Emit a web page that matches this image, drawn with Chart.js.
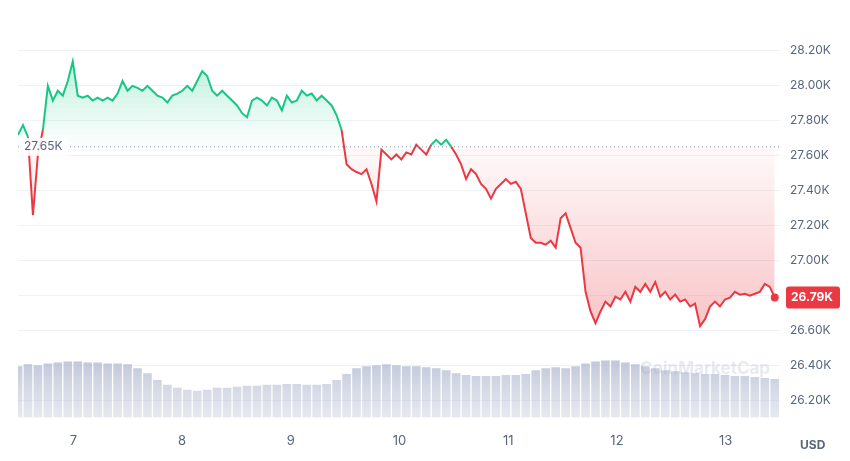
<!DOCTYPE html>
<html>
<head>
<meta charset="utf-8">
<script src="https://cdn.jsdelivr.net/npm/chart.js@4.4.0/dist/chart.umd.min.js"></script>
<style>
  html, body { margin: 0; padding: 0; background: #fff; }
  #wrap { width: 850px; height: 461px; }
</style>
</head>
<body>
<div id="wrap"><canvas id="priceChart" width="850" height="461"></canvas></div>
<script>
// ===== data =====
const startDay = 6.49;          // first sample (day of month)
const stepDay = 0.0458;         // ~1.1 h between samples
const baseline = 27650;         // opening price, dotted line
const lastLabel = '26.79K';

const prices = [
  27718, 27774, 27707, 27259, 27606, 27746, 27998, 27914, 27970, 27942,
  28026, 28138, 27942, 27931, 27942, 27914, 27931, 27914, 27931, 27914,
  27954, 28026, 27970, 27998, 27987, 27970, 27998, 27970, 27942, 27931,
  27903, 27942, 27954, 27970, 27998, 27970, 28026, 28082, 28054, 27970,
  27942, 27970, 27942, 27914, 27886, 27842, 27819, 27914, 27931, 27914,
  27886, 27931, 27914, 27858, 27942, 27903, 27914, 27970, 27942, 27954,
  27914, 27942, 27914, 27886, 27830, 27746, 27550, 27522, 27506, 27494,
  27522, 27438, 27338, 27634, 27606, 27578, 27606, 27578, 27618, 27606,
  27662, 27634, 27606, 27662, 27690, 27662, 27690, 27651, 27606, 27550,
  27466, 27522, 27494, 27438, 27410, 27354, 27410, 27438, 27466, 27438,
  27450, 27410, 27270, 27130, 27102, 27102, 27091, 27114, 27074, 27242,
  27270, 27186, 27102, 27074, 26822, 26710, 26643, 26710, 26766, 26738,
  26794, 26778, 26822, 26766, 26850, 26822, 26867, 26822, 26878, 26794,
  26822, 26778, 26806, 26766, 26778, 26738, 26755, 26626, 26666, 26738,
  26766, 26738, 26778, 26789, 26822, 26806, 26811, 26800, 26811, 26822,
  26867, 26850, 26790
];

// volume, one bar every second sample
const volumes = [
  52, 54, 53, 55, 56, 57, 57, 56, 56, 55, 55, 54, 50, 45,
  38, 33, 30, 28, 27, 28, 30, 30, 31, 32, 32, 33, 33, 34, 34, 33, 33, 34, 38,
  44, 50, 52, 53, 54, 53, 52, 52, 51, 50, 48, 45,
  43, 42, 42, 42, 43, 43, 44,
  48, 50, 51, 50, 52, 55,
  57, 58, 58, 56, 54, 52,
  50, 48, 47, 46, 45, 44, 44, 43, 42, 42, 41, 40, 39
];

const dayTicks = [7, 8, 9, 10, 11, 12, 13];

const GREEN = '#16c784';
const RED = '#ea3943';
const TEXT = '#58667e';

const pricePoints = prices.map((p, i) => ({ x: startDay + i * stepDay, y: p }));
const volumePoints = volumes.map((v, i) => ({ x: startDay + i * 2 * stepDay, y: v }));

const ctx = document.getElementById('priceChart').getContext('2d');

// gradients in css pixels (canvas is fixed size)
const greenFill = ctx.createLinearGradient(0, 50, 0, 142);
greenFill.addColorStop(0, 'rgba(22,199,132,0.30)');
greenFill.addColorStop(1, 'rgba(22,199,132,0.02)');
const redFill = ctx.createLinearGradient(0, 142, 0, 330);
redFill.addColorStop(0, 'rgba(234,57,67,0.02)');
redFill.addColorStop(1, 'rgba(234,57,67,0.30)');
const volFill = ctx.createLinearGradient(0, 360, 0, 418);
volFill.addColorStop(0, 'rgba(170,180,205,0.75)');
volFill.addColorStop(1, 'rgba(200,206,222,0.45)');

// baseline, labels, end dot
const overlayPlugin = {
  id: 'overlay',
  afterDatasetsDraw(chart) {
    const { ctx, chartArea, scales } = chart;
    const y = scales.y;
    const by = y.getPixelForValue(baseline);
    ctx.save();
    ctx.setLineDash([1, 3]);
    ctx.strokeStyle = '#8a93a6';
    ctx.lineWidth = 1;
    ctx.beginPath();
    ctx.moveTo(chartArea.left, by);
    ctx.lineTo(chartArea.right, by);
    ctx.stroke();
    ctx.setLineDash([]);

    ctx.font = "12px 'Inter', sans-serif";
    ctx.textBaseline = 'middle';
    ctx.fillStyle = 'rgba(255,255,255,0.9)';
    ctx.fillRect(chartArea.left + 2, by - 9, 48, 18);
    ctx.fillStyle = TEXT;
    ctx.textAlign = 'left';
    ctx.fillText('27.65K', chartArea.left + 6, by);

    // last price tag
    const meta = chart.getDatasetMeta(0);
    const last = meta.data[meta.data.length - 1];
    ctx.fillStyle = RED;
    ctx.beginPath();
    ctx.arc(last.x, last.y, 4, 0, Math.PI * 2);
    ctx.fill();
    ctx.beginPath();
    ctx.roundRect(chartArea.right + 6, last.y - 11, 54, 22, 3);
    ctx.fill();
    ctx.fillStyle = '#fff';
    ctx.font = "bold 12px 'Inter', sans-serif";
    ctx.fillText(lastLabel, chartArea.right + 11, last.y);

    // watermark + unit
    ctx.fillStyle = 'rgba(160,170,190,0.25)';
    ctx.font = "bold 17px 'Inter', sans-serif";
    ctx.fillText('CoinMarketCap', 640, 369);
    ctx.fillStyle = TEXT;
    ctx.font = "bold 12px 'Inter', sans-serif";
    ctx.fillText('USD', 800, 445);
    ctx.restore();
  }
};

new Chart(ctx, {
  data: {
    datasets: [
      {
        type: 'line',
        data: pricePoints,
        yAxisID: 'y',
        borderWidth: 2,
        pointRadius: 0,
        tension: 0,
        borderColor: RED,
        segment: {
          borderColor: c => (c.p0.parsed.y >= baseline && c.p1.parsed.y >= baseline) ? GREEN : RED
        },
        fill: { target: { value: baseline }, above: greenFill, below: redFill },
        order: 1
      },
      {
        type: 'bar',
        data: volumePoints,
        yAxisID: 'vol',
        backgroundColor: volFill,
        barThickness: 8,
        order: 2
      }
    ]
  },
  plugins: [overlayPlugin],
  options: {
    responsive: false,
    animation: false,
    layout: { padding: { left: 18, top: 10, right: 4, bottom: 4 } },
    plugins: { legend: { display: false }, tooltip: { enabled: false } },
    scales: {
      x: {
        type: 'linear',
        offset: false,
        min: startDay,
        max: 13.5,
        afterBuildTicks: s => { s.ticks = dayTicks.map(v => ({ value: v })); },
        grid: { display: false, offset: false },
        border: { display: false },
        ticks: { color: TEXT, font: { size: 13, family: 'Inter' }, padding: 8 }
      },
      y: {
        position: 'right',
        min: 26105,
        max: 28390,
        afterBuildTicks: s => {
          const t = [];
          for (let v = 26200; v <= 28200; v += 200) t.push({ value: v });
          s.ticks = t;
        },
        afterFit: s => { s.width = 66; },
        grid: { color: '#eff2f5', drawTicks: false },
        border: { display: false },
        ticks: {
          color: TEXT, padding: 10,
          font: { size: 12, family: 'Inter' },
          callback: v => (v / 1000).toFixed(2) + 'K'
        }
      },
      vol: {
        display: false,
        min: 0,
        max: 410
      }
    }
  }
});
</script>
</body>
</html>
